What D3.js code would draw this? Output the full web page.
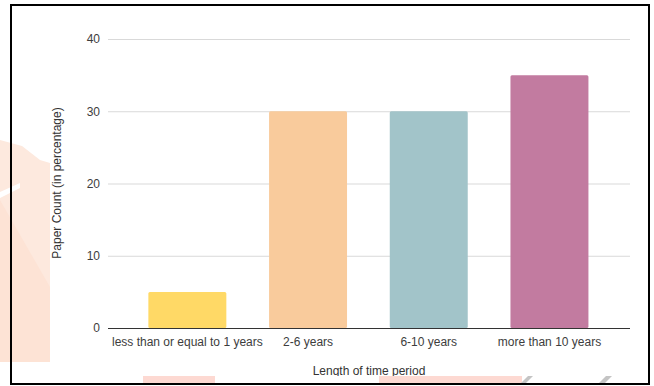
<!DOCTYPE html>
<html>
<head>
<meta charset="utf-8">
<script src="https://cdn.jsdelivr.net/npm/d3@7"></script>
<style>
  html, body { margin: 0; padding: 0; background: #fff; }
  svg { display: block; }
  text { font-family: "Liberation Sans", Arial, sans-serif; }
</style>
</head>
<body>
<svg id="chart" width="654" height="386"></svg>
<script>
const categories = ["less than or equal to 1 years", "2-6 years", "6-10 years", "more than 10 years"];
const values = [5, 30, 30, 35];
const barColors = ["#ffd966", "#f9cb9c", "#a2c4c9", "#c27ba0"];
const yTicks = [0, 10, 20, 30, 40];
const xTitle = "Length of time period";
const yTitle = "Paper Count (in percentage)";

const svg = d3.select("#chart");

// background decoration (page behind the chart image)
const deco = svg.append("g");
deco.append("path").attr("d", "M0,140 L22,146 L40,160 L50,163 L50,362 L0,362 Z").attr("fill", "#fde9de");
deco.append("path").attr("d", "M0,200 L50,287 L50,362 L0,362 Z").attr("fill", "#fde3d5");
deco.append("path").attr("d", "M0,192 L20,183 L20,188 L0,198 Z").attr("fill", "#ffffff");
deco.append("rect").attr("x", 143).attr("y", 376).attr("width", 72).attr("height", 8).attr("fill", "#fdd9d2");
deco.append("rect").attr("x", 379).attr("y", 376).attr("width", 143).attr("height", 8).attr("fill", "#fdd9d2");
deco.append("path").attr("d", "M520,384 L528,376 L533,376 L525,384 Z").attr("fill", "#c4c4c4");
deco.append("path").attr("d", "M598,384 L606,376 L612,376 L604,384 Z").attr("fill", "#c4c4c4");

// chart image area
svg.append("defs").append("clipPath").attr("id", "clip")
  .append("rect").attr("x", 50).attr("y", 5).attr("width", 598).attr("height", 371);
const g = svg.append("g").attr("clip-path", "url(#clip)");
g.append("rect").attr("x", 50).attr("y", 5).attr("width", 598).attr("height", 371).attr("fill", "#fff");

const y = d3.scaleLinear().domain([0, 40]).range([328, 39]);
const x = d3.scaleBand().domain(categories).range([127, 609.8]).paddingInner(0.354).paddingOuter(0.177);

// gridlines + y labels
const yAxis = d3.axisLeft(y).tickValues(yTicks).tickSize(-(630 - 108)).tickPadding(8).tickFormat(d3.format("d"));
const ya = g.append("g").attr("transform", "translate(108,0)").call(yAxis);
ya.select(".domain").remove();
ya.selectAll(".tick line").attr("stroke", "#d9d9d9").attr("stroke-width", 1);
ya.selectAll(".tick text").attr("fill", "#3d3d3d").style("font-size", "12px").attr("x", -8);

// bars
g.selectAll("rect.bar").data(values).enter().append("rect")
  .attr("class", "bar")
  .attr("x", (d, i) => x(categories[i]))
  .attr("y", d => y(d))
  .attr("width", x.bandwidth())
  .attr("height", d => y(0) - y(d))
  .attr("rx", 1.5)
  .attr("fill", (d, i) => barColors[i]);

// x axis baseline + labels
const xAxis = d3.axisBottom(x).tickSize(0).tickPadding(9);
const xa = g.append("g").attr("transform", `translate(0,${y(0)})`).call(xAxis);
xa.select(".domain").remove();
xa.selectAll(".tick text").attr("fill", "#3d3d3d").style("font-size", "12px").attr("dy", "0.71em");
g.append("line").attr("x1", 108).attr("x2", 630).attr("y1", y(0) + 0.5).attr("y2", y(0) + 0.5)
  .attr("stroke", "#333").attr("stroke-width", 1);

// axis titles
g.append("text").attr("x", 369).attr("y", 375).attr("text-anchor", "middle")
  .attr("fill", "#333").style("font-size", "12px").text(xTitle);
g.append("text").attr("transform", "translate(61,183) rotate(-90)").attr("text-anchor", "middle")
  .attr("fill", "#333").style("font-size", "12px").text(yTitle);

// border
svg.append("rect").attr("x", 11).attr("y", 5).attr("width", 638).attr("height", 379)
  .attr("fill", "none").attr("stroke", "#000").attr("stroke-width", 2);
</script>
</body>
</html>
